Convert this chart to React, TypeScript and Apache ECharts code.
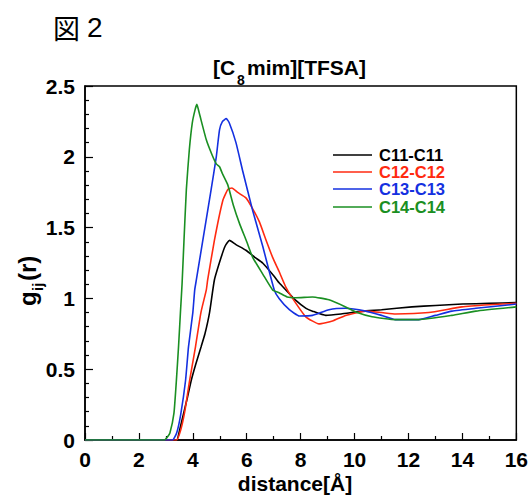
import React, { useEffect, useRef } from "react";
import * as echarts from "echarts";

const seriesNames = ["C11-C11", "C12-C12", "C13-C13", "C14-C14"];
const seriesColors = ["#000000", "#ff2a10", "#1430e0", "#1a8f22"];

const xC11 = [0, 3.0, 3.4, 3.51, 3.66, 3.8, 3.94, 4.1, 4.31, 4.45, 4.62, 4.8, 5.05, 5.2, 5.36, 5.6, 5.97, 6.3, 6.59, 7.0, 7.2, 7.45, 7.8, 8.2, 8.44, 8.93, 9.5, 10.28, 11.0, 12.13, 13.0, 14.0, 15.0, 16.0];
const yC11 = [0, 0, 0.0, 0.07, 0.19, 0.3, 0.42, 0.53, 0.66, 0.75, 0.9, 1.13, 1.29, 1.37, 1.41, 1.38, 1.34, 1.29, 1.25, 1.16, 1.11, 1.06, 0.99, 0.93, 0.91, 0.88, 0.89, 0.91, 0.92, 0.94, 0.95, 0.96, 0.965, 0.97];

const xC12 = [0, 3.0, 3.4, 3.55, 3.7, 3.88, 4.1, 4.3, 4.5, 4.55, 4.8, 5.11, 5.3, 5.45, 5.65, 5.97, 6.2, 6.47, 6.7, 6.96, 7.2, 7.45, 7.7, 8.19, 8.68, 9.18, 9.67, 10.41, 11.0, 11.52, 12.75, 13.98, 15.0, 16.0];
const yC12 = [0, 0, 0.0, 0.07, 0.2, 0.42, 0.66, 0.9, 1.06, 1.13, 1.41, 1.69, 1.77, 1.78, 1.75, 1.71, 1.64, 1.54, 1.42, 1.29, 1.19, 1.08, 1.0, 0.87, 0.82, 0.84, 0.88, 0.91, 0.9, 0.89, 0.9, 0.94, 0.955, 0.965];

const xC13 = [0, 3.0, 3.25, 3.4, 3.55, 3.73, 3.84, 4.0, 4.07, 4.13, 4.37, 4.68, 4.87, 4.99, 5.1, 5.24, 5.35, 5.6, 5.85, 6.22, 6.59, 7.02, 7.2, 7.58, 7.95, 8.44, 9.05, 9.67, 10.41, 11.0, 11.52, 12.38, 13.0, 13.61, 14.5, 16.0];
const yC13 = [0, 0, 0.0, 0.05, 0.18, 0.42, 0.66, 0.9, 1.06, 1.13, 1.41, 1.77, 2.0, 2.19, 2.25, 2.27, 2.24, 2.1, 1.9, 1.62, 1.37, 1.06, 1.0, 0.92, 0.876, 0.88, 0.92, 0.93, 0.91, 0.88, 0.85, 0.85, 0.88, 0.91, 0.93, 0.96];

const xC14 = [0, 2.95, 3.05, 3.15, 3.3, 3.39, 3.47, 3.54, 3.6, 3.67, 3.76, 3.87, 3.98, 4.08, 4.15, 4.25, 4.5, 4.7, 4.87, 4.99, 5.1, 5.3, 5.5, 5.73, 6.0, 6.22, 6.6, 6.96, 7.2, 7.5, 7.82, 8.44, 9.05, 9.67, 10.1, 10.65, 11.52, 12.38, 13.61, 14.5, 16.0];
const yC14 = [0, 0, 0.02, 0.05, 0.19, 0.42, 0.66, 0.9, 1.1, 1.4, 1.77, 2.05, 2.24, 2.33, 2.37, 2.3, 2.12, 2.02, 1.95, 1.93, 1.88, 1.8, 1.66, 1.53, 1.4, 1.29, 1.17, 1.06, 1.04, 1.01, 1.005, 1.01, 0.99, 0.94, 0.9, 0.87, 0.85, 0.85, 0.88, 0.91, 0.94];

const seriesX = [xC11, xC12, xC13, xC14];
const seriesY = [yC11, yC12, yC13, yC14];

const FONT = "'Liberation Sans', Arial, Helvetica, sans-serif";

export default function App() {
  const ref = useRef<HTMLDivElement>(null);
  useEffect(() => {
    if (!ref.current) return;
    const chart = echarts.init(ref.current, null, { renderer: "svg" });

    const series = seriesNames.map((name, i) => ({
      name,
      type: "line",
      data: seriesX[i].map((x, j) => [x, seriesY[i][j]]),
      showSymbol: false,
      symbol: "none",
      smooth: 0.15,
      lineStyle: { color: seriesColors[i], width: 1.6 },
      itemStyle: { color: seriesColors[i] },
      z: 2 + i,
    }));

    const legendItems: any[] = [];
    const rowY = [155, 172, 189, 207];
    seriesNames.forEach((n, i) => {
      legendItems.push({
        type: "line",
        shape: { x1: 333, y1: rowY[i], x2: 372, y2: rowY[i] },
        style: { stroke: seriesColors[i], lineWidth: 1.6 },
      });
      legendItems.push({
        type: "text",
        x: 379,
        y: rowY[i],
        style: {
          text: n,
          fill: seriesColors[i],
          font: `bold 16.5px ${FONT}`,
          textVerticalAlign: "middle",
          textAlign: "left",
        },
      });
    });

    const option: any = {
      animation: false,
      backgroundColor: "#ffffff",
      grid: {
        left: 85,
        right: 13,
        top: 86,
        bottom: 57,
        show: true,
        borderColor: "#000",
        borderWidth: 1.5,
        containLabel: false,
      },
      xAxis: {
        type: "value",
        min: 0,
        max: 16,
        interval: 2,
        axisLine: { show: true, lineStyle: { color: "#000", width: 1.5 } },
        axisTick: { show: true, inside: true, length: 7, lineStyle: { color: "#000", width: 1.2 } },
        minorTick: { show: true, splitNumber: 2, length: 4, lineStyle: { color: "#000", width: 1.2 } },
        splitLine: { show: false },
        axisLabel: { color: "#000", fontFamily: FONT, fontWeight: "bold", fontSize: 21, margin: 9 },
      },
      yAxis: {
        type: "value",
        min: 0,
        max: 2.5,
        interval: 0.5,
        axisLine: { show: true, lineStyle: { color: "#000", width: 1.5 } },
        axisTick: { show: true, inside: true, length: 8, lineStyle: { color: "#000", width: 1.2 } },
        minorTick: { show: true, splitNumber: 5, length: 4, lineStyle: { color: "#000", width: 1.2 } },
        splitLine: { show: false },
        axisLabel: {
          color: "#000",
          fontFamily: FONT,
          fontWeight: "bold",
          fontSize: 21,
          margin: 10,
          formatter: (v: number) => String(v),
        },
      },
      series,
      graphic: [
        {
          type: "text",
          x: 53,
          y: 27,
          style: {
            text: "図",
            fill: "#000",
            font: `27px 'Noto Sans CJK JP', sans-serif`,
            textVerticalAlign: "middle",
          },
        },
        {
          type: "text",
          x: 87,
          y: 27,
          style: {
            text: "2",
            fill: "#000",
            font: `28px 'Liberation Sans', Arial, sans-serif`,
            textVerticalAlign: "middle",
          },
        },
        {
          type: "text",
          x: 213,
          y: 67,
          style: { text: "[C", fill: "#000", font: `bold 21px ${FONT}`, textVerticalAlign: "middle" },
        },
        {
          type: "text",
          x: 237,
          y: 80,
          style: { text: "8", fill: "#000", font: `bold 14px ${FONT}`, textVerticalAlign: "middle" },
        },
        {
          type: "text",
          x: 247,
          y: 67,
          style: { text: "mim][TFSA]", fill: "#000", font: `bold 21px ${FONT}`, textVerticalAlign: "middle" },
        },
        {
          type: "group",
          x: 27,
          y: 306,
          rotation: Math.PI / 2,
          children: [
            {
              type: "text",
              x: 0,
              y: 0,
              style: { text: "g", fill: "#000", font: `bold 24px ${FONT}`, textVerticalAlign: "middle" },
            },
            {
              type: "text",
              x: 15,
              y: 10,
              style: { text: "ij", fill: "#000", font: `bold 15px ${FONT}`, textVerticalAlign: "middle" },
            },
            {
              type: "text",
              x: 25,
              y: 0,
              style: { text: "(r)", fill: "#000", font: `bold 24px ${FONT}`, textVerticalAlign: "middle" },
            },
          ],
        },
        {
          type: "text",
          x: 295,
          y: 483,
          style: {
            text: "distance[Å]",
            fill: "#000",
            font: `bold 21px ${FONT}`,
            textAlign: "center",
            textVerticalAlign: "middle",
          },
        },
        ...legendItems,
      ],
    };
    chart.setOption(option);
    return () => chart.dispose();
  }, []);
  return <div ref={ref} style={{ width: 531, height: 497, position: "absolute", left: 0, top: 0 }} />;
}
